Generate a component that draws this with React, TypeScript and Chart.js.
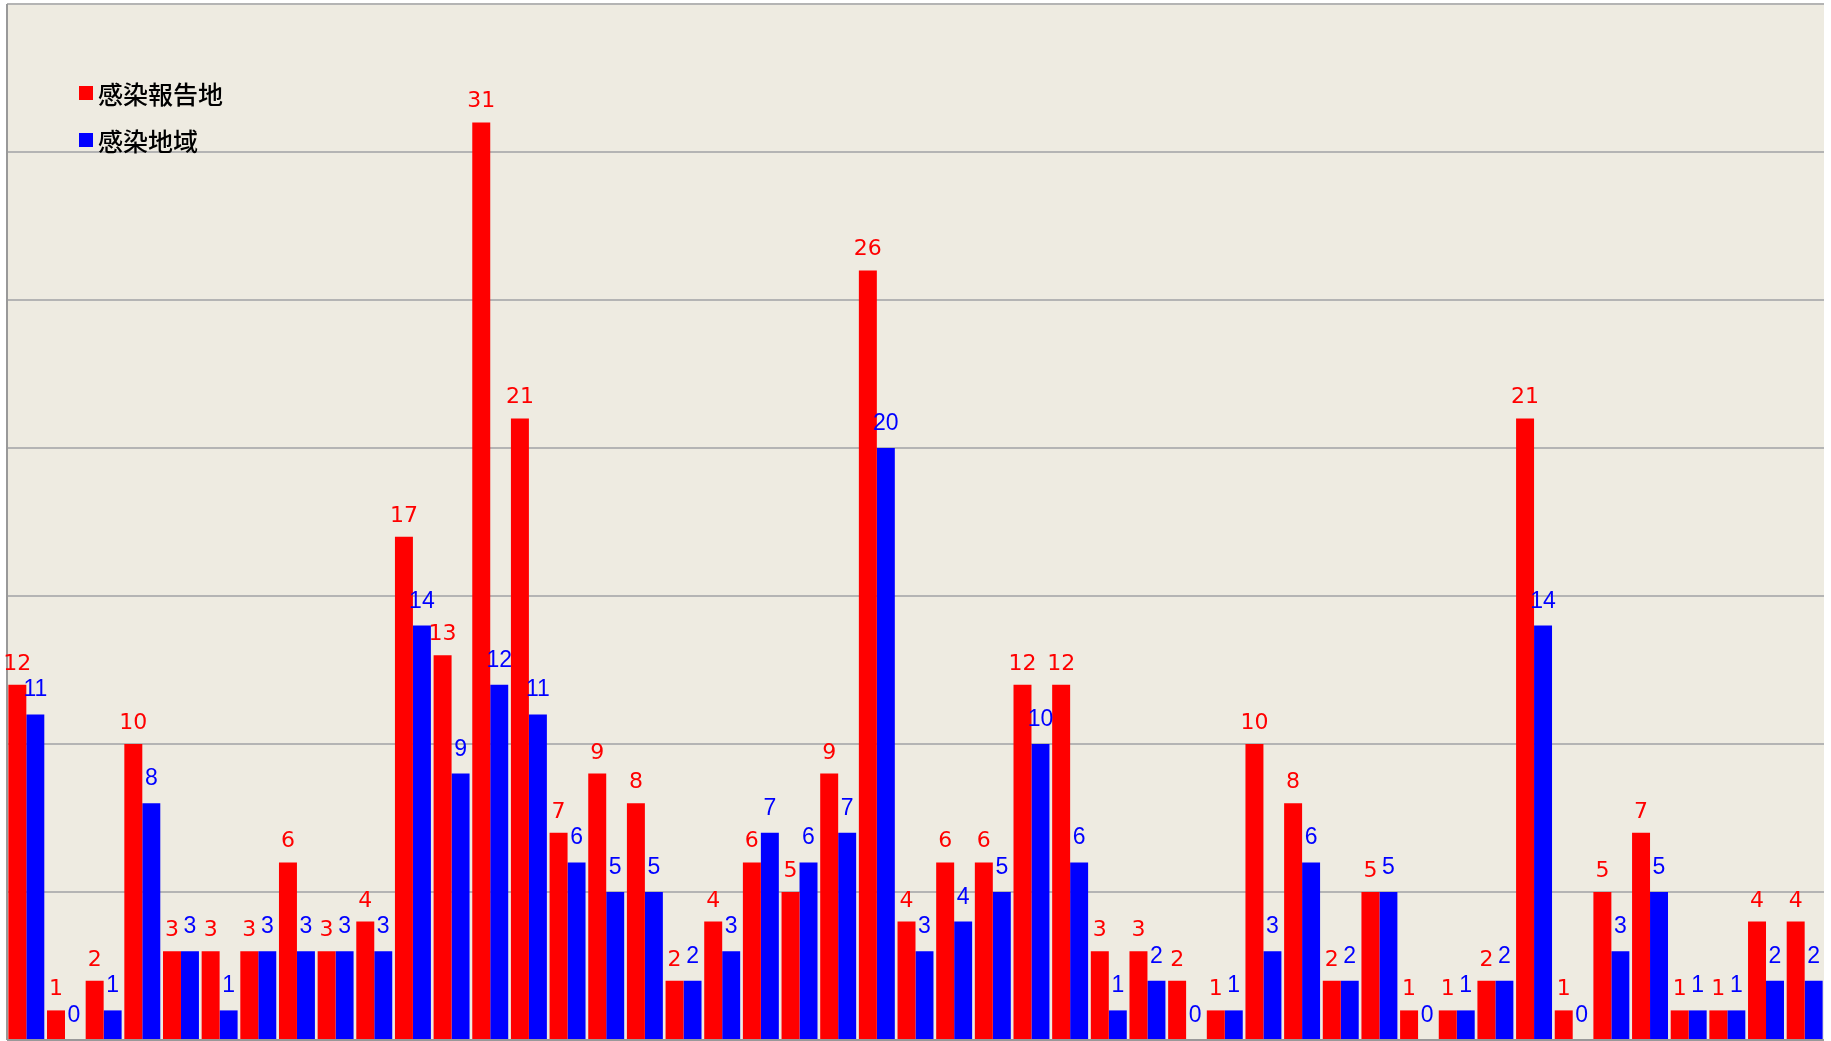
import React, { useEffect, useRef } from "react";
import { Chart, registerables } from "chart.js";

Chart.register(...registerables);

const categories = [
  "北海道", "青森", "岩手", "宮城", "秋田", "山形", "福島", "茨城", "栃木", "群馬",
  "埼玉", "千葉", "東京", "神奈川", "新潟", "富山", "石川", "福井", "山梨", "長野",
  "岐阜", "静岡", "愛知", "三重", "滋賀", "京都", "大阪", "兵庫", "奈良", "和歌山",
  "鳥取", "島根", "岡山", "広島", "山口", "徳島", "香川", "愛媛", "高知", "福岡",
  "佐賀", "長崎", "熊本", "大分", "宮崎", "鹿児島", "沖縄",
];

const reportPlace = [
  12, 1, 2, 10, 3, 3, 3, 6, 3, 4,
  17, 13, 31, 21, 7, 9, 8, 2, 4, 6,
  5, 9, 26, 4, 6, 6, 12, 12, 3, 3,
  2, 1, 10, 8, 2, 5, 1, 1, 2, 21,
  1, 5, 7, 1, 1, 4, 4,
];

const infectionArea = [
  11, 0, 1, 8, 3, 1, 3, 3, 3, 3,
  14, 9, 12, 11, 6, 5, 5, 2, 3, 7,
  6, 7, 20, 3, 4, 5, 10, 6, 1, 2,
  0, 1, 3, 6, 2, 5, 0, 1, 2, 14,
  0, 3, 5, 1, 1, 2, 2,
];

const seriesNames = ["感染報告地", "感染地域"];
const gridValues = [5, 10, 15, 20, 25, 30];
const yMax = 35;

const RED = "#ff0000";
const BLUE = "#0000ff";
const BG = "#eeebe1";
const GRID = "#b4b4b4";

const decorPlugin = {
  id: "decor",
  beforeDatasetsDraw(chart: any) {
    const { ctx, chartArea } = chart;
    const y = chart.scales.y;
    ctx.save();
    ctx.fillStyle = BG;
    ctx.fillRect(chartArea.left, chartArea.top, chartArea.right - chartArea.left, chartArea.bottom - chartArea.top);
    ctx.strokeStyle = GRID;
    ctx.lineWidth = 2;
    for (const v of gridValues) {
      const py = Math.round(y.getPixelForValue(v));
      ctx.beginPath();
      ctx.moveTo(chartArea.left, py);
      ctx.lineTo(chartArea.right, py);
      ctx.stroke();
    }
    const top = Math.round(y.getPixelForValue(yMax));
    ctx.beginPath();
    ctx.moveTo(chartArea.left, top);
    ctx.lineTo(chartArea.right, top);
    ctx.stroke();
    ctx.strokeStyle = "#999999";
    ctx.beginPath();
    ctx.moveTo(chartArea.left, chartArea.top);
    ctx.lineTo(chartArea.left, chartArea.bottom);
    ctx.stroke();
    ctx.restore();
  },
  afterDatasetsDraw(chart: any) {
    const { ctx, chartArea } = chart;
    ctx.save();
    ctx.strokeStyle = "#999999";
    ctx.lineWidth = 2;
    const by = Math.round(chart.scales.y.getPixelForValue(0));
    ctx.beginPath();
    ctx.moveTo(chartArea.left, by);
    ctx.lineTo(chartArea.right, by);
    ctx.stroke();

    ctx.textAlign = "center";
    ctx.textBaseline = "alphabetic";
    chart.data.datasets.forEach((ds: any, di: number) => {
      const meta = chart.getDatasetMeta(di);
      ctx.fillStyle = ds.backgroundColor;
      ctx.font = di === 0 ? '22px "DejaVu Sans"' : '23px "Liberation Sans"';
      const gap = di === 0 ? 15 : 18;
      meta.data.forEach((el: any, i: number) => {
        ctx.fillText(String(ds.data[i]), el.x, el.y - gap);
      });
    });

    const lx = chartArea.left + 72;
    const ly0 = 93;
    const step = 47;
    ctx.font = '500 25px "Noto Sans CJK JP"';
    ctx.textAlign = "left";
    ctx.textBaseline = "middle";
    chart.data.datasets.forEach((ds: any, di: number) => {
      const cy = ly0 + di * step;
      ctx.fillStyle = ds.backgroundColor;
      ctx.fillRect(lx, cy - 7, 14, 14);
      ctx.fillStyle = "#000000";
      ctx.fillText(seriesNames[di], lx + 19, cy + 1);
    });
    ctx.restore();
  },
};

export default function App() {
  const ref = useRef<HTMLCanvasElement | null>(null);
  useEffect(() => {
    if (!ref.current) return;
    const chart = new Chart(ref.current, {
      type: "bar",
      data: {
        labels: categories,
        datasets: [
          {
            label: seriesNames[0],
            data: reportPlace,
            backgroundColor: RED,
            categoryPercentage: 0.93,
            barPercentage: 1.0,
          },
          {
            label: seriesNames[1],
            data: infectionArea,
            backgroundColor: BLUE,
            categoryPercentage: 0.93,
            barPercentage: 1.0,
          },
        ],
      },
      options: {
        responsive: false,
        animation: false,
        layout: { padding: { left: 7, right: 7, top: 4, bottom: 1 } },
        plugins: { legend: { display: false }, tooltip: { enabled: false } },
        scales: {
          x: { display: false, offset: true },
          y: { display: false, min: 0, max: yMax },
        },
      },
      plugins: [decorPlugin],
    });
    return () => chart.destroy();
  }, []);
  return (
    <canvas
      ref={ref}
      width={1831}
      height={1041}
      style={{ position: "absolute", left: 0, top: 0, width: 1831, height: 1041 }}
    />
  );
}
